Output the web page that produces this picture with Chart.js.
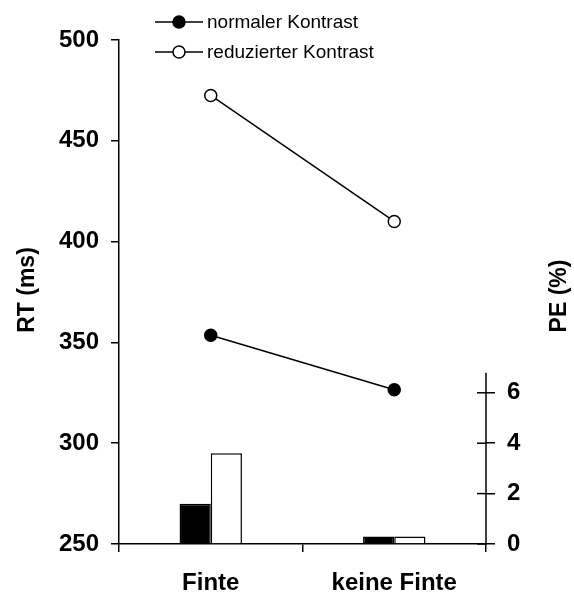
<!DOCTYPE html>
<html>
<head>
<meta charset="utf-8">
<script src="https://cdn.jsdelivr.net/npm/chart.js@4"></script>
<style>
  body { margin: 0; background: #fff; }
</style>
</head>
<body>
<canvas id="rt-pe-chart" width="574" height="592"></canvas>
<script>
    // RT (ms) lines and PE (%) bars, Finte vs keine Finte
    const categories = ["Finte", "keine Finte"];
    const rtNormal = [353.5, 326.5];    // normaler Kontrast, ms
    const rtReduced = [472.5, 410];     // reduzierter Kontrast, ms
    const peNormal = [1.6, 0.3];        // percent
    const peReduced = [3.6, 0.3];       // percent
    const rtTicks = [250, 300, 350, 400, 450, 500];
    const peTicks = [0, 2, 4, 6];
    const legendLabels = ["normaler Kontrast", "reduzierter Kontrast"];

    const FONT = "'Liberation Sans', Arial, sans-serif";

    // axis titles, legend and the short right axis are drawn by hand
    const extras = {
        id: "extras",
        afterDraw(chart) {
            const ctx = chart.ctx;
            const area = chart.chartArea;
            const y2 = chart.scales.y2;
            ctx.save();
            ctx.strokeStyle = "#000";
            ctx.lineWidth = 1.5;
            // right axis line only up to ~6.8 %
            ctx.beginPath();
            ctx.moveTo(area.right, y2.getPixelForValue(0) + 0.75);
            ctx.lineTo(area.right, y2.getPixelForValue(6.8));
            ctx.stroke();
            // inner half of the crossing ticks
            peTicks.forEach(v => {
                const y = y2.getPixelForValue(v);
                ctx.beginPath();
                ctx.moveTo(area.right - 9, y);
                ctx.lineTo(area.right, y);
                ctx.stroke();
            });

            // axis titles
            ctx.fillStyle = "#000";
            ctx.font = "bold 23px " + FONT;
            ctx.textAlign = "center";
            ctx.textBaseline = "middle";
            [["RT (ms)", 28, 290], ["PE (%)", 560, 296]].forEach(t => {
                ctx.save();
                ctx.translate(t[1], t[2]);
                ctx.rotate(-Math.PI / 2);
                ctx.fillText(t[0], 0, 0);
                ctx.restore();
            });

            // legend: line with marker
            ctx.font = "19px " + FONT;
            ctx.textAlign = "left";
            legendLabels.forEach((lbl, i) => {
                const ds = chart.data.datasets[i];
                const y = 22 + i * 30;
                ctx.beginPath();
                ctx.moveTo(155, y);
                ctx.lineTo(203, y);
                ctx.stroke();
                ctx.beginPath();
                ctx.arc(179, y, 6, 0, Math.PI * 2);
                ctx.fillStyle = ds.pointBackgroundColor;
                ctx.fill();
                ctx.stroke();
                ctx.fillStyle = "#000";
                ctx.fillText(lbl, 207, y + 1);
            });
            ctx.restore();
        }
    };

    const dataObj = {
        labels: categories,
        datasets: [
            {
                type: "line",
                label: legendLabels[0],
                data: rtNormal,
                yAxisID: "y",
                borderColor: "#000",
                borderWidth: 1.5,
                pointRadius: 6,
                pointBorderWidth: 1.5,
                pointBackgroundColor: "#000",
                pointBorderColor: "#000",
                order: 0
            },
            {
                type: "line",
                label: legendLabels[1],
                data: rtReduced,
                yAxisID: "y",
                borderColor: "#000",
                borderWidth: 1.5,
                pointRadius: 6,
                pointBorderWidth: 1.5,
                pointBackgroundColor: "#fff",
                pointBorderColor: "#000",
                order: 0
            },
            {
                label: "PE normal",
                data: peNormal,
                yAxisID: "y2",
                backgroundColor: "#000",
                borderColor: "#000",
                borderWidth: 1.5,
                order: 1
            },
            {
                label: "PE reduziert",
                data: peReduced,
                yAxisID: "y2",
                backgroundColor: "#fff",
                borderColor: "#000",
                borderWidth: 1.5,
                order: 1
            }
        ]
    };

    new Chart("rt-pe-chart", {
        type: "bar",
        data: dataObj,
        plugins: [extras],
        options: {
            responsive: false,
            animation: false,
            layout: { padding: { top: 40, left: 0, right: 0, bottom: 0 } },
            datasets: {
                bar: { barPercentage: 1, categoryPercentage: 0.34 }
            },
            plugins: {
                legend: { display: false },
                tooltip: { enabled: false }
            },
            scales: {
                x: {
                    offset: true,
                    afterFit: s => { s.height = 48; },
                    grid: { offset: true, drawOnChartArea: false, tickLength: 8, color: "#000", lineWidth: 1.5 },
                    border: { color: "#000", width: 1.5 },
                    ticks: { color: "#000", padding: 17, font: { family: FONT, size: 24, weight: "bold" } }
                },
                y: {
                    position: "left",
                    min: 250,
                    max: 500,
                    afterFit: s => { s.width = 119; },
                    afterBuildTicks: s => { s.ticks = rtTicks.map(v => ({ value: v })); },
                    grid: { drawOnChartArea: false, tickLength: 8, color: "#000", lineWidth: 1.5 },
                    border: { color: "#000", width: 1.5 },
                    ticks: { color: "#000", padding: 12, font: { family: FONT, size: 24, weight: "bold" } }
                },
                y2: {
                    position: "right",
                    min: 0,
                    max: 20,   // 0..20 % spans the same height as 250..500 ms
                    afterFit: s => { s.width = 88; },
                    afterBuildTicks: s => { s.ticks = peTicks.map(v => ({ value: v })); },
                    grid: { drawOnChartArea: false, tickLength: 9, color: "#000", lineWidth: 1.5 },
                    border: { display: false },
                    ticks: { color: "#000", padding: 12, font: { family: FONT, size: 24, weight: "bold" } }
                }
            }
        }
    });
</script>
</body>
</html>
